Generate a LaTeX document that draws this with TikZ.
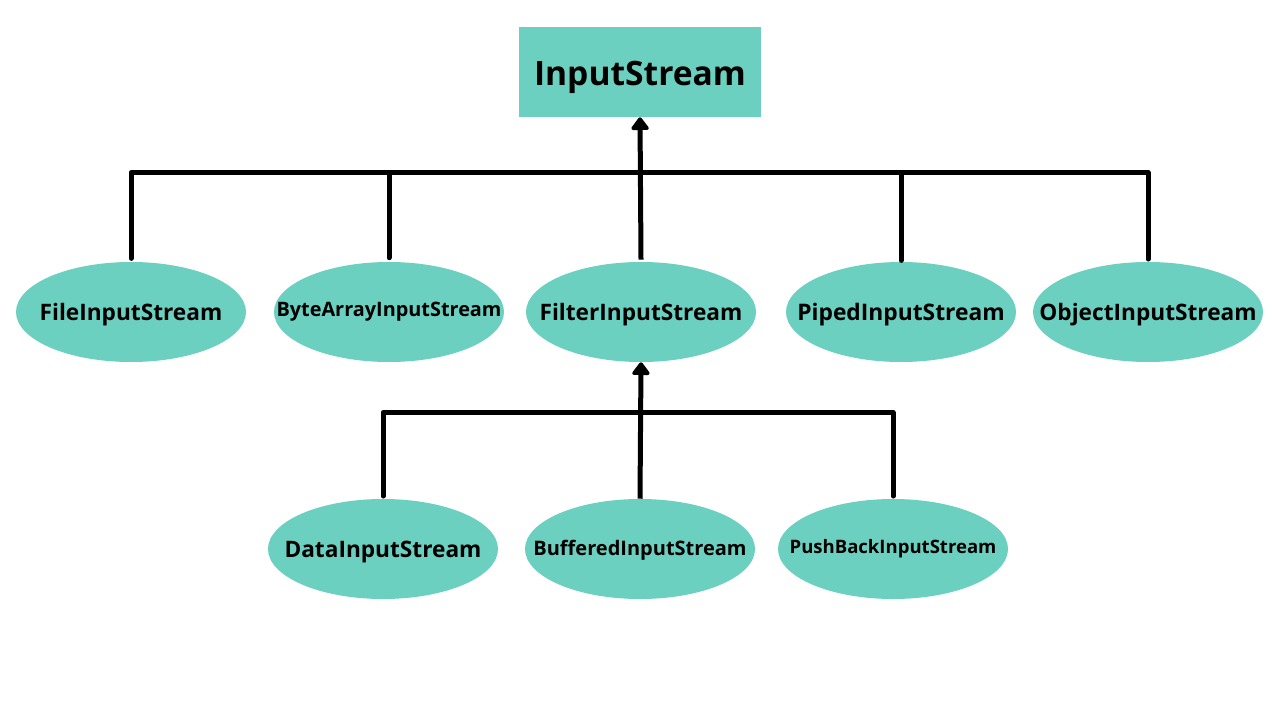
\documentclass[tikz,border=0pt]{standalone}
\usepackage{fontspec}
\setmainfont{Open Sans}
\usetikzlibrary{shapes.geometric,arrows.meta}
\definecolor{teal1}{HTML}{6BD0C0}
\newcommand{\lbl}[2]{\makebox[0pt][c]{\smash{\raisebox{\dimexpr-0.357em+#1\relax}{#2}}}}
\tikzset{
  cls/.style={ellipse,fill=teal1,minimum width=172.5pt,minimum height=75pt,inner sep=0pt},
  root/.style={rectangle,fill=teal1,minimum width=181.5pt,minimum height=67.5pt,inner sep=0pt,font=\bfseries\fontsize{25.2}{30}\selectfont},
  conn/.style={line width=3.75pt,line cap=round,line join=round},
  inh/.style={conn,line cap=butt,-{Triangle[width=15pt,length=10.5pt,round]}},
}
\begin{document}
\begin{tikzpicture}[x=0.75pt,y=-0.75pt]
\useasboundingbox (0,0) rectangle (1280,720);
\fill[white] (0,0) rectangle (1280,720);
\node[root] (is) at (640,72) {\lbl{-1pt}{InputStream}};
\node[cls,font=\bfseries\fontsize{17}{20}\selectfont] (file) at (131,312) {\lbl{0pt}{FileInputStream}};
\node[cls,font=\bfseries\fontsize{14.9}{18}\selectfont] (byte) at (389,312) {\lbl{2pt}{ByteArrayInputStream}};
\node[cls,font=\bfseries\fontsize{17}{20}\selectfont] (filter) at (641,312) {\lbl{0pt}{FilterInputStream}};
\node[cls,font=\bfseries\fontsize{17.1}{20}\selectfont] (piped) at (901,312) {\lbl{0pt}{PipedInputStream}};
\node[cls,font=\bfseries\fontsize{17}{20}\selectfont] (obj) at (1148,312) {\lbl{0pt}{ObjectInputStream}};
\node[cls,font=\bfseries\fontsize{17}{20}\selectfont] (data) at (383,549) {\lbl{0pt}{DataInputStream}};
\node[cls,font=\bfseries\fontsize{15}{18}\selectfont] (buf) at (640,549) {\lbl{0.75pt}{BufferedInputStream}};
\node[cls,font=\bfseries\fontsize{13.9}{17}\selectfont] (push) at (893,549) {\lbl{1.5pt}{PushBackInputStream}};
\coordinate (bt) at (640,172.5);
\coordinate (bb) at (640,412.5);
% top hierarchy
\draw[conn] ([yshift=2.5pt]file.north) -- (file.north |- bt) -- (obj.north |- bt) -- ([yshift=2pt]obj.north);
\draw[conn] ([yshift=3pt]byte.north) -- (byte.north |- bt);
\draw[conn] ([yshift=1pt]piped.north) -- (piped.north |- bt);
\draw[inh] ([yshift=1.5pt]filter.north) -- (is.south);
% bottom hierarchy
\draw[conn] ([yshift=2pt]data.north) -- (data.north |- bb) -- (push.north |- bb) -- ([yshift=2pt]push.north);
\draw[inh] (buf.north) -- (filter.south);
\end{tikzpicture}
\end{document}
